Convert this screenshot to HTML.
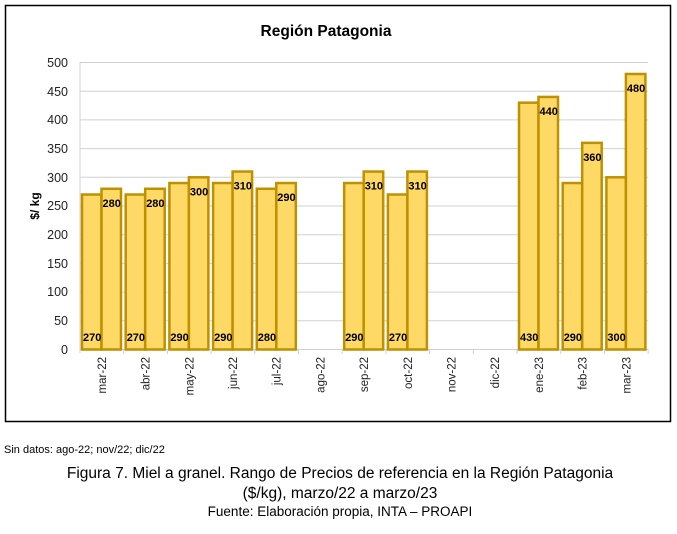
<!DOCTYPE html>
<html><head><meta charset="utf-8"><style>
body{margin:0;background:#fff;width:677px;height:529px;overflow:hidden;font-family:"Liberation Sans",Arial,sans-serif}
</style></head><body>
<svg width="677" height="529" xmlns="http://www.w3.org/2000/svg" font-family="Liberation Sans, Arial, sans-serif">
<rect x="5.5" y="5.5" width="665" height="416" fill="#fff" stroke="#000" stroke-width="1.5"/>
<text x="326" y="36" font-size="15.5" font-weight="bold" text-anchor="middle">Región Patagonia</text>
<g stroke="#d0d0d0" stroke-width="1">
<line x1="80" x2="648" y1="62.5" y2="62.5"/><line x1="80" x2="648" y1="91.2" y2="91.2"/><line x1="80" x2="648" y1="119.9" y2="119.9"/><line x1="80" x2="648" y1="148.6" y2="148.6"/><line x1="80" x2="648" y1="177.3" y2="177.3"/><line x1="80" x2="648" y1="206" y2="206"/><line x1="80" x2="648" y1="234.7" y2="234.7"/><line x1="80" x2="648" y1="263.4" y2="263.4"/><line x1="80" x2="648" y1="292.1" y2="292.1"/><line x1="80" x2="648" y1="320.8" y2="320.8"/><line x1="80" x2="648" y1="349.5" y2="349.5"/>
<line x1="80" x2="80" y1="62" y2="353"/>
</g>
<g font-size="12.5" text-anchor="end" fill="#222">
<text x="68" y="67">500</text><text x="68" y="96">450</text><text x="68" y="124">400</text><text x="68" y="153">350</text><text x="68" y="182">300</text><text x="68" y="210">250</text><text x="68" y="239">200</text><text x="68" y="268">150</text><text x="68" y="296">100</text><text x="68" y="325">50</text><text x="68" y="354">0</text>
</g>
<text transform="translate(39,206) rotate(-90)" font-size="12" font-weight="bold" text-anchor="middle">$/ kg</text>
<g id="bars" fill="#FFD966" stroke="#BF9000" stroke-width="2.5"></g>
<g id="lbl" font-size="11" font-weight="bold"></g>
<g id="xl" font-size="11.5" fill="#222"></g>
<g id="tk" stroke="#d0d0d0"></g>
<text x="4" y="453" font-size="11">Sin datos: ago-22; nov/22; dic/22</text>
<g text-anchor="middle">
<text x="340" y="478" font-size="15.5">Figura 7. Miel a granel. Rango de Precios de referencia en la Región Patagonia</text>
<text x="340" y="498" font-size="15.5">($/kg), marzo/22 a marzo/23</text>
<text x="340" y="516" font-size="13.5">Fuente: Elaboración propia, INTA – PROAPI</text>
</g>
</svg>
<script>
var d=[[270,280],[270,280],[290,300],[290,310],[280,290],null,[290,310],[270,310],null,null,[430,440],[290,360],[300,480]];
var n=["mar-22","abr-22","may-22","jun-22","jul-22","ago-22","sep-22","oct-22","nov-22","dic-22","ene-23","feb-23","mar-23"];
var b="",l="",x="",t="",w=43.7,y0=349.5,s=287/500;
for(var i=0;i<13;i++){var c=80+i*w;
t+='<line x1="'+(c+w)+'" x2="'+(c+w)+'" y1="349" y2="354"/>';
x+='<text transform="translate('+(c+w/2+4)+',357) rotate(-90)" text-anchor="end">'+n[i]+'</text>';
if(!d[i])continue;var a=d[i];
var x1=c+2,x2=c+21.5,bw=19.5;
b+='<rect x="'+x1+'" y="'+(y0-a[0]*s)+'" width="'+bw+'" height="'+(a[0]*s)+'"/>';
b+='<rect x="'+x2+'" y="'+(y0-a[1]*s)+'" width="'+bw+'" height="'+(a[1]*s)+'"/>';
l+='<text x="'+(x1+1)+'" y="341">'+a[0]+'</text>';
l+='<text x="'+(x2+1)+'" y="'+(y0-a[1]*s+18)+'">'+a[1]+'</text>';}
document.getElementById("bars").innerHTML=b;document.getElementById("lbl").innerHTML=l;document.getElementById("xl").innerHTML=x;document.getElementById("tk").innerHTML=t;
</script>
</body></html>
